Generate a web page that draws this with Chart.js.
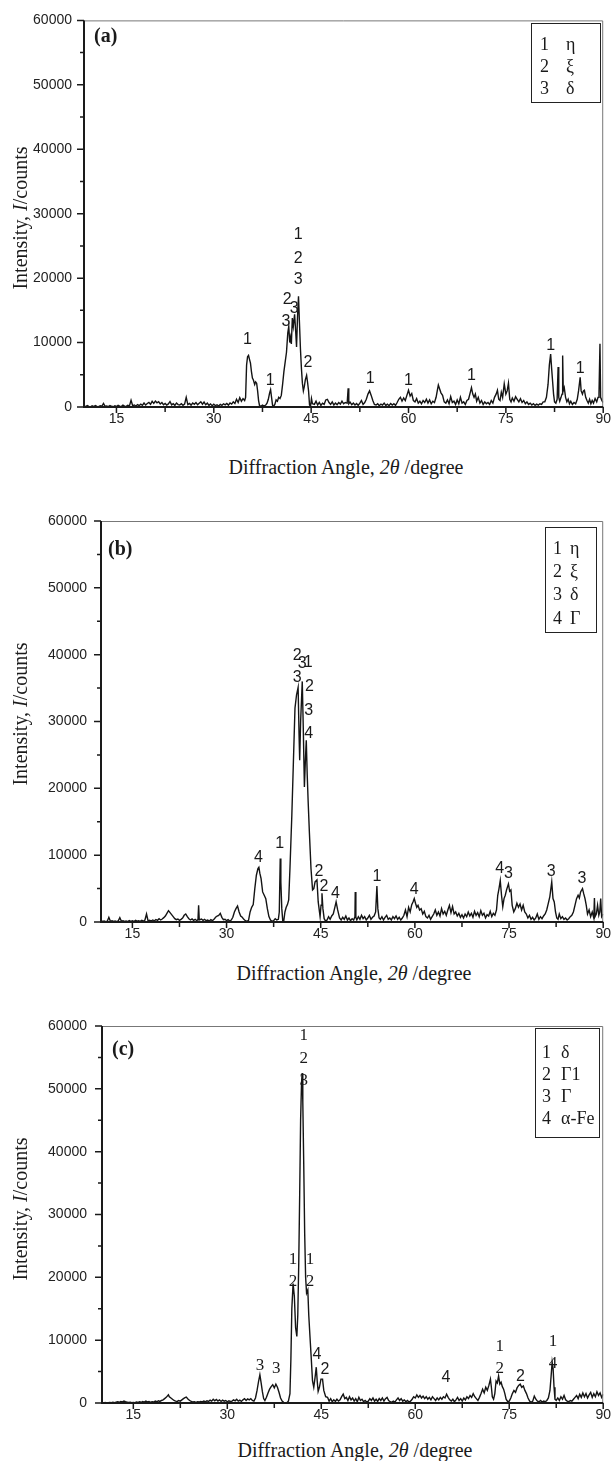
<!DOCTYPE html>
<html>
<head>
<meta charset="utf-8">
<script src="https://cdn.jsdelivr.net/npm/chart.js@4.4.1/dist/chart.umd.min.js"></script>
<style>
  body { margin: 0; width: 615px; height: 1461px; position: relative; background: #fff; overflow: hidden; }
  canvas { position: absolute; left: 0; }
  .serif { font-family: "Liberation Serif", "Times New Roman", serif; color: #1a1a1a; }
  .xtitle { position: absolute; font-size: 20px; white-space: nowrap; transform: translate(-50%, -50%); line-height: 1; }
  .ytitle { position: absolute; font-size: 20px; white-space: nowrap; transform: translate(-50%, -50%) rotate(-90deg); line-height: 1; }
  .mark { position: absolute; font-size: 20px; font-weight: bold; line-height: 1; transform: translateY(-50%); }
  .key { position: absolute; border: 1px solid #222; box-sizing: border-box; font-size: 18px; }
  .key div { position: absolute; line-height: 1; transform: translateY(-50%); white-space: nowrap; }
</style>
</head>
<body>

<canvas id="chartA" width="615" height="440" style="top:0px"></canvas>
<canvas id="chartB" width="615" height="460" style="top:490px"></canvas>
<canvas id="chartC" width="615" height="440" style="top:995px"></canvas>

<!-- panel (a) text -->
<div class="serif mark" style="left:94px; top:35px">(a)</div>
<div class="serif key" style="left:531px; top:23px; width:70px; height:80px">
  <div style="left:8px; top:20px">1</div><div style="left:34px; top:20px">η</div>
  <div style="left:8px; top:42px">2</div><div style="left:34px; top:42px">ξ</div>
  <div style="left:8px; top:64px">3</div><div style="left:34px; top:64px">δ</div>
</div>
<div class="serif ytitle" style="left:20px; top:218px">Intensity, <i>I</i>/counts</div>
<div class="serif xtitle" style="left:346px; top:467px">Diffraction Angle, <i>2θ</i> /degree</div>

<!-- panel (b) text -->
<div class="serif mark" style="left:108px; top:548px">(b)</div>
<div class="serif key" style="left:545px; top:527px; width:52px; height:106px">
  <div style="left:7px; top:20px">1</div><div style="left:24px; top:20px">η</div>
  <div style="left:7px; top:43px">2</div><div style="left:24px; top:43px">ξ</div>
  <div style="left:7px; top:66px">3</div><div style="left:24px; top:66px">δ</div>
  <div style="left:7px; top:90px">4</div><div style="left:24px; top:90px">Γ</div>
</div>
<div class="serif ytitle" style="left:20px; top:714px">Intensity, <i>I</i>/counts</div>
<div class="serif xtitle" style="left:354px; top:973px">Diffraction Angle, <i>2θ</i> /degree</div>

<!-- panel (c) text -->
<div class="serif mark" style="left:112px; top:1048px">(c)</div>
<div class="serif key" style="left:535px; top:1028px; width:65px; height:110px">
  <div style="left:6px; top:23px">1</div><div style="left:25px; top:23px">δ</div>
  <div style="left:6px; top:45px">2</div><div style="left:25px; top:45px">Γ1</div>
  <div style="left:6px; top:67px">3</div><div style="left:25px; top:67px">Γ</div>
  <div style="left:6px; top:89px">4</div><div style="left:25px; top:89px">α-Fe</div>
</div>
<div class="serif ytitle" style="left:20px; top:1209px">Intensity, <i>I</i>/counts</div>
<div class="serif xtitle" style="left:355px; top:1450px">Diffraction Angle, <i>2θ</i> /degree</div>

<script>
// axis ticks shared by all three patterns
const angleTicks = [15, 30, 45, 60, 75, 90];
const angleMinor = [22.5, 37.5, 52.5, 67.5, 82.5];
const countTicks = [0, 10000, 20000, 30000, 40000, 50000, 60000];
const countMinor = [5000, 15000, 25000, 35000, 45000, 55000];

// pattern (a): [2theta, counts]
const traceA = [
  [10,150],[10.25,60],[10.5,210],[10.75,90],[11,40],[11.25,180],[11.5,70],[11.75,230],[12,100],[12.25,50],
  [12.5,200],[12.75,120],[13,560],[13.25,90],[13.5,160],[13.75,60],[14,220],[14.25,110],[14.5,40],[14.75,190],
  [15,80],[15.25,250],[15.5,120],[15.75,60],[16,300],[16.25,140],[16.5,90],[16.75,260],[17,180],[17.25,1050],
  [17.5,200],[17.75,320],[18,150],[18.25,380],[18.5,210],[18.75,450],[19,260],[19.25,620],[19.5,300],[19.75,540],
  [20,700],[20.25,420],[20.5,880],[20.75,560],[21,930],[21.25,650],[21.5,820],[21.75,480],[22,700],[22.25,350],
  [22.5,560],[22.75,300],[23,480],[23.25,850],[23.5,330],[23.75,520],[24,260],[24.25,610],[24.5,380],[24.75,300],
  [25,520],[25.25,260],[25.5,450],[25.75,1500],[26,380],[26.25,560],[26.5,300],[26.75,620],[27,420],[27.25,700],
  [27.5,350],[27.75,580],[28,820],[28.25,430],[28.5,760],[28.75,350],[29,600],[29.25,250],[29.5,480],[29.75,180],
  [30,420],[30.25,200],[30.5,350],[30.75,150],[31,420],[31.25,260],[31.5,500],[31.75,330],[32,560],[32.25,300],
  [32.5,620],[32.75,450],[33,800],[33.25,550],[33.5,1200],[33.75,700],[34,1450],[34.25,900],[34.5,1300],[34.75,1000],
  [34.9,1500],[35.05,6500],[35.2,7800],[35.35,8000],[35.5,7400],[35.65,6800],[35.8,5500],[35.95,4500],[36.1,4200],[36.3,3500],
  [36.45,3900],[36.6,3700],[36.75,2500],[36.9,1000],[37.05,200],[37.25,100],[37.5,300],[37.75,150],[38,300],[38.2,600],
  [38.4,1200],[38.6,2200],[38.75,2700],[38.9,1500],[39.05,300],[39.15,0],[39.4,400],[39.6,1100],[39.8,900],[40,1500],
  [40.2,1300],[40.4,1800],[40.6,3500],[40.8,5500],[41,7000],[41.2,8500],[41.4,11500],[41.55,12500],[41.7,10000],[41.8,10800],
  [41.95,9800],[42.1,13800],[42.25,12500],[42.45,14400],[42.6,12000],[42.75,9300],[42.9,14000],[43.05,17200],[43.2,13000],[43.35,9000],
  [43.5,6000],[43.65,3700],[43.8,2500],[43.95,3200],[44.1,4200],[44.3,4900],[44.45,3800],[44.6,2500],[44.75,300],[44.9,100],
  [45.05,1300],[45.2,500],[45.5,400],[45.75,900],[46,300],[46.25,700],[46.5,250],[46.75,600],[47,400],[47.25,1100],
  [47.5,1200],[47.75,700],[48,400],[48.25,800],[48.5,300],[48.75,600],[49,350],[49.25,700],[49.5,450],[49.75,900],
  [50,500],[50.25,700],[50.55,600],[50.7,2900],[50.8,500],[51,750],[51.25,350],[51.5,600],[51.75,300],[52,550],
  [52.25,250],[52.5,600],[52.75,1000],[53,400],[53.25,700],[53.5,1200],[53.75,2000],[54,2500],[54.25,1800],[54.5,1000],
  [54.75,400],[55,300],[55.25,500],[55.5,200],[55.75,450],[56,300],[56.25,600],[56.5,250],[56.75,450],[57,200],
  [57.25,550],[57.5,300],[57.75,500],[58,250],[58.25,700],[58.5,1200],[58.75,1500],[59,900],[59.25,1400],[59.5,1000],
  [59.75,1800],[60,2600],[60.25,1700],[60.5,2100],[60.75,1000],[61,800],[61.25,1300],[61.5,600],[61.75,900],[62,500],
  [62.25,1000],[62.5,700],[62.75,1200],[63,600],[63.25,1100],[63.5,500],[63.75,900],[64,700],[64.25,1500],[64.45,2600],
  [64.6,3400],[64.8,2800],[65,2200],[65.25,1800],[65.5,800],[65.75,600],[66,1100],[66.25,500],[66.5,1600],[66.75,700],
  [67,900],[67.25,400],[67.5,1100],[67.75,500],[68,1500],[68.25,600],[68.5,800],[68.75,400],[69,1000],[69.25,1200],
  [69.5,2200],[69.7,3000],[69.9,2000],[70.1,1500],[70.3,2000],[70.5,900],[70.75,1500],[71,600],[71.25,1000],[71.5,400],
  [71.75,800],[72,500],[72.25,700],[72.5,400],[72.75,1000],[73,600],[73.25,1500],[73.5,2000],[73.7,2600],[73.9,1200],
  [74.1,1000],[74.3,2300],[74.5,1500],[74.75,3600],[75,2000],[75.2,2500],[75.4,3700],[75.6,1200],[75.8,800],[76,1400],
  [76.25,900],[76.5,1600],[76.75,1200],[77,800],[77.25,1300],[77.5,700],[77.75,1000],[78,500],[78.25,800],[78.5,400],
  [78.75,600],[79,300],[79.25,500],[79.5,250],[79.75,450],[80,300],[80.25,500],[80.5,400],[80.75,800],[81,800],
  [81.25,1500],[81.5,3500],[81.7,6500],[81.9,8200],[82.05,6000],[82.2,4000],[82.35,2000],[82.5,800],[82.7,600],[82.9,1200],
  [83.05,6200],[83.15,1500],[83.3,900],[83.5,1500],[83.65,2000],[83.75,8000],[83.85,2500],[84,3000],[84.2,1500],[84.4,800],
  [84.6,1200],[84.8,500],[85,900],[85.25,400],[85.5,700],[85.75,500],[86,1200],[86.2,2500],[86.45,4600],[86.6,2500],
  [86.8,2000],[86.95,2500],[87.1,2600],[87.3,1500],[87.5,1000],[87.7,600],[87.9,1200],[88.1,500],[88.3,1000],[88.5,600],
  [88.75,1300],[89,800],[89.2,1500],[89.35,2000],[89.5,9800],[89.6,1500],[89.8,1000],[90,700]
];

// pattern (b)
const traceB = [
  [10,200],[10.25,80],[10.5,150],[10.75,60],[11,120],[11.25,700],[11.5,100],[11.75,200],[12,80],[12.25,150],
  [12.5,50],[12.75,180],[13,650],[13.25,120],[13.5,200],[13.75,90],[14,160],[14.25,60],[14.5,220],[14.75,100],
  [15,180],[15.25,80],[15.5,250],[15.75,120],[16,200],[16.25,90],[16.5,240],[16.75,120],[17,300],[17.25,1200],
  [17.5,150],[17.75,260],[18,130],[18.25,300],[18.5,180],[18.75,350],[19,250],[19.25,500],[19.5,300],[19.75,450],
  [20,650],[20.25,900],[20.5,1300],[20.75,1700],[21,1400],[21.25,1100],[21.5,800],[21.75,500],[22,350],[22.25,450],
  [22.5,250],[22.75,400],[23,600],[23.25,1000],[23.5,1200],[23.75,800],[24,500],[24.25,300],[24.5,450],[24.75,250],
  [25,400],[25.25,200],[25.45,350],[25.55,2500],[25.65,300],[26,450],[26.25,250],[26.5,400],[26.75,200],[27,300],
  [27.25,150],[27.5,350],[27.75,200],[28,400],[28.25,700],[28.5,900],[28.75,1000],[29,1300],[29.25,700],[29.5,350],
  [29.75,400],[30,200],[30.25,350],[30.5,150],[30.75,300],[31,700],[31.25,1500],[31.5,2000],[31.75,2400],[32,1500],
  [32.25,900],[32.5,700],[32.75,400],[33,200],[33.25,100],[33.5,250],[33.75,1500],[34,2200],[34.25,2600],[34.5,5000],
  [34.75,7000],[35,8000],[35.15,8200],[35.3,7300],[35.5,6500],[35.75,4500],[36,4000],[36.25,3500],[36.5,2000],[36.75,800],
  [37,300],[37.25,100],[37.5,200],[37.75,500],[38,300],[38.25,400],[38.4,1500],[38.55,9500],[38.65,6000],[38.8,2000],
  [38.95,200],[39.1,50],[39.3,1500],[39.5,2200],[39.7,2600],[39.9,3300],[40.1,8000],[40.4,16000],[40.65,24000],[40.9,32000],
  [41.15,34000],[41.4,35100],[41.55,28000],[41.65,24200],[41.8,30000],[42.06,36000],[42.2,30000],[42.4,20200],[42.55,24000],[42.7,27200],
  [42.85,22000],[43,18000],[43.2,13300],[43.45,8000],[43.7,4800],[43.9,5000],[44.1,6000],[44.4,6300],[44.6,3000],[44.9,800],
  [45.05,2500],[45.2,4300],[45.35,2000],[45.55,500],[45.8,100],[46,300],[46.25,800],[46.5,400],[46.75,900],[47,1200],
  [47.25,2200],[47.45,3000],[47.7,1800],[48,600],[48.25,300],[48.5,700],[48.75,400],[49,900],[49.25,300],[49.5,600],
  [49.75,200],[50,500],[50.25,300],[50.45,800],[50.5,4500],[50.6,700],[50.75,300],[51,800],[51.25,400],[51.5,1000],
  [51.75,500],[52,800],[52.25,300],[52.5,600],[52.75,1000],[53,400],[53.25,700],[53.5,900],[53.75,1500],[53.95,5400],
  [54.1,2000],[54.3,600],[54.5,400],[54.75,800],[55,300],[55.25,700],[55.5,1000],[55.75,400],[56,600],[56.25,300],
  [56.5,800],[56.75,500],[57,900],[57.25,400],[57.5,700],[57.75,300],[58,600],[58.25,1000],[58.5,1800],[58.75,800],
  [59,2200],[59.25,1500],[59.5,2600],[59.7,3000],[59.9,3500],[60.1,2800],[60.3,2200],[60.5,2500],[60.75,1800],[61,2000],
  [61.25,1200],[61.5,1600],[61.75,800],[62,600],[62.25,1000],[62.5,400],[62.75,800],[63,1200],[63.25,1800],[63.5,1000],
  [63.75,1500],[64,900],[64.25,2000],[64.5,1200],[64.75,1600],[65,1000],[65.25,1800],[65.5,2500],[65.75,1400],[66,2300],
  [66.25,1200],[66.5,1500],[66.75,900],[67,1300],[67.25,700],[67.5,1100],[67.75,600],[68,1200],[68.25,800],[68.5,1500],
  [68.75,900],[69,1300],[69.25,700],[69.5,1600],[69.75,1000],[70,1400],[70.25,800],[70.5,1700],[70.75,1000],[71,1300],
  [71.25,600],[71.5,1100],[71.75,900],[72,1600],[72.25,800],[72.5,1300],[72.75,1000],[73,1800],[73.2,4000],[73.4,5000],
  [73.6,6200],[73.8,4000],[74,2300],[74.2,3500],[74.4,4000],[74.6,4800],[74.9,5700],[75.1,4600],[75.3,4800],[75.5,2500],
  [75.75,1500],[76,2000],[76.25,2800],[76.5,2200],[76.75,2700],[77,1800],[77.25,2500],[77.5,1500],[77.75,1200],[78,600],
  [78.25,1000],[78.5,400],[78.75,700],[79,300],[79.25,600],[79.5,1200],[79.75,400],[80,800],[80.25,500],[80.5,900],
  [80.75,1200],[81,1800],[81.25,2800],[81.5,3800],[81.8,6000],[82,3500],[82.2,3000],[82.4,1500],[82.6,600],[82.8,400],
  [83,1200],[83.25,500],[83.5,800],[83.75,400],[84,600],[84.25,300],[84.5,500],[84.75,800],[85,1000],[85.25,1500],
  [85.5,2500],[85.75,3500],[86,4000],[86.2,3600],[86.4,4500],[86.7,5000],[86.9,4200],[87.1,3500],[87.3,2500],[87.5,1200],
  [87.75,1800],[88,800],[88.25,1500],[88.5,600],[88.6,3600],[88.7,800],[88.9,1200],[89.1,2500],[89.3,1000],[89.45,1500],
  [89.6,3500],[89.75,800],[90,1200]
];

// pattern (c)
const traceC = [
  [10,50],[10.25,20],[10.5,80],[10.75,30],[11,60],[11.25,100],[11.5,40],[11.75,120],[12,60],[12.25,150],
  [12.5,200],[12.75,120],[13,250],[13.25,180],[13.5,300],[13.75,200],[14,150],[14.25,80],[14.5,120],[14.75,50],
  [15,100],[15.25,60],[15.5,150],[15.75,80],[16,200],[16.25,120],[16.5,250],[16.75,150],[17,300],[17.25,180],
  [17.5,250],[17.75,120],[18,200],[18.25,150],[18.5,300],[18.75,200],[19,350],[19.25,250],[19.5,400],[19.75,500],
  [20,700],[20.25,900],[20.6,1300],[20.75,1000],[21,800],[21.25,600],[21.5,400],[21.75,300],[22,250],[22.25,400],
  [22.5,300],[22.75,500],[23,700],[23.25,850],[23.45,950],[23.75,600],[24,400],[24.25,250],[24.5,150],[24.75,200],
  [25,100],[25.25,200],[25.5,150],[25.75,250],[26,180],[26.25,300],[26.5,200],[26.75,350],[27,250],[27.25,450],
  [27.5,300],[27.75,600],[28,350],[28.25,550],[28.5,300],[28.75,500],[29,250],[29.25,450],[29.5,300],[29.75,400],
  [30,200],[30.25,350],[30.5,250],[30.75,300],[31,500],[31.25,350],[31.5,600],[31.75,300],[32,450],[32.25,250],
  [32.5,500],[32.75,700],[33,400],[33.25,650],[33.5,500],[33.75,700],[34,400],[34.25,300],[34.5,800],[34.75,2000],
  [35,3500],[35.2,4500],[35.4,3200],[35.6,1800],[35.8,700],[36,400],[36.25,900],[36.5,1600],[36.75,2200],[37,2600],
  [37.25,2900],[37.5,2400],[37.75,3000],[38,2500],[38.25,1700],[38.5,800],[38.75,300],[39,100],[39.25,50],[39.5,30],
  [39.75,300],[40,1500],[40.15,7000],[40.3,15000],[40.5,19000],[40.7,17000],[40.9,12000],[41.1,10600],[41.25,14000],[41.4,22000],
  [41.55,33000],[41.7,45000],[41.85,51000],[41.95,52500],[42.05,48000],[42.2,38000],[42.35,27000],[42.5,20000],[42.65,17500],[42.85,18000],
  [43,14000],[43.2,10500],[43.4,7100],[43.6,3500],[43.8,2500],[44,4000],[44.2,5700],[44.35,3500],[44.5,1850],[44.7,2500],
  [44.95,3800],[45.2,3800],[45.4,2000],[45.7,1000],[46,900],[46.25,300],[46.5,700],[46.75,200],[47,500],[47.25,250],
  [47.5,600],[47.75,300],[48,500],[48.25,1000],[48.5,1400],[48.75,700],[49,900],[49.25,400],[49.5,1000],[49.75,500],
  [50,800],[50.25,300],[50.5,700],[50.75,200],[51,900],[51.25,400],[51.5,600],[51.75,200],[52,400],[52.25,150],
  [52.5,300],[52.75,700],[53,400],[53.25,800],[53.5,300],[53.75,600],[54,250],[54.25,700],[54.5,400],[54.75,800],
  [55,300],[55.25,700],[55.5,900],[55.75,400],[56,200],[56.25,100],[56.5,300],[56.75,150],[57,500],[57.25,800],
  [57.5,400],[57.75,700],[58,300],[58.25,500],[58.5,200],[58.75,400],[59,150],[59.25,300],[59.5,600],[59.75,1000],
  [60,800],[60.25,1300],[60.5,900],[60.75,1200],[61,800],[61.25,1100],[61.5,700],[61.75,1000],[62,600],[62.25,900],
  [62.5,500],[62.75,1000],[63,700],[63.25,400],[63.5,800],[63.75,500],[64,900],[64.25,600],[64.5,1000],[64.75,800],
  [65,1400],[65.25,900],[65.5,500],[65.75,300],[66,600],[66.25,200],[66.5,500],[66.75,900],[67,400],[67.25,700],
  [67.5,300],[67.75,800],[68,500],[68.25,1000],[68.5,700],[68.75,1200],[69,900],[69.25,1500],[69.5,1000],[69.75,700],
  [70,400],[70.25,900],[70.5,1500],[70.75,2200],[71,1600],[71.25,2500],[71.5,2000],[71.75,2800],[72,3800],[72.15,2500],
  [72.3,1000],[72.5,600],[72.7,1500],[72.9,3500],[73.1,3200],[73.3,4300],[73.5,3000],[73.7,3300],[73.9,2600],[74.1,2200],
  [74.3,1500],[74.5,600],[74.75,200],[75,300],[75.25,800],[75.5,1500],[75.75,2000],[76,1700],[76.25,2400],[76.5,2800],
  [76.75,3000],[77,2500],[77.25,2700],[77.5,2000],[77.75,1500],[78,800],[78.25,300],[78.5,100],[78.75,300],[79,1100],
  [79.25,600],[79.5,300],[79.75,200],[80,400],[80.25,150],[80.5,300],[80.75,200],[81,400],[81.25,800],[81.5,2000],
  [81.7,4500],[81.85,6500],[82,5500],[82.15,2500],[82.3,600],[82.5,400],[82.75,800],[83,400],[83.25,1000],[83.5,600],
  [83.75,1200],[84,500],[84.25,300],[84.5,200],[84.75,400],[85,300],[85.25,600],[85.5,900],[85.75,1200],[86,700],
  [86.25,1400],[86.5,900],[86.75,1600],[87,1000],[87.25,1500],[87.5,800],[87.75,1300],[88,1700],[88.25,900],[88.5,1500],
  [88.75,1000],[89,1800],[89.25,1200],[89.5,1600],[89.75,900],[90,1400]
];

// phase numbers written over the peaks: [2theta, counts, text, face]
const tagsA = [
  [35.2,10400,'1','s'],[38.7,4100,'1','s'],[41.1,13300,'3','s'],[41.3,16700,'2','s'],[42.4,15200,'3','s'],
  [43.0,26700,'1','s'],[43.0,23000,'2','s'],[43.0,19800,'3','s'],[44.5,6900,'2','s'],[54.1,4400,'1','s'],
  [60.0,4100,'1','s'],[69.7,4900,'1','s'],[81.9,9500,'1','s'],[86.45,6000,'1','s']
];
const tagsB = [
  [35.1,9650,'4','s'],[38.45,11750,'1','s'],[41.27,39850,'2','s'],[41.27,36600,'3','s'],[42.06,38600,'3','s'],
  [43.0,38850,'1','s'],[43.2,35200,'2','s'],[43.1,31600,'3','s'],[43.1,28200,'4','s'],[44.7,7500,'2','s'],
  [45.5,5370,'2','s'],[47.35,4280,'4','s'],[53.95,6760,'1','s'],[59.9,4880,'4','s'],[73.5,8000,'4','s'],
  [74.9,7270,'3','s'],[81.7,7500,'3','s'],[86.6,6520,'3','s']
];
const tagsC = [
  [42.2,58460,'1','r'],[42.2,54760,'2','r'],[42.2,51300,'3','r'],[40.47,22850,'1','r'],[40.47,19300,'2','r'],
  [43.2,22850,'1','r'],[43.2,19300,'2','r'],[44.3,7670,'4','s'],[45.6,5290,'2','s'],[35.2,5920,'3','r'],
  [37.8,5550,'3','r'],[64.9,3970,'4','s'],[73.5,8980,'1','r'],[73.5,5550,'2','r'],[76.8,4220,'2','s'],
  [82.0,9780,'1','r'],[82.0,6350,'4','r']
];

const SANS = '"Liberation Sans", Arial, sans-serif';
const SERIF = '"Liberation Serif", "Times New Roman", serif';

// axis lines, box and tick marks
const framePlugin = {
  id: 'frame',
  afterDatasetsDraw(chart) {
    const { ctx, chartArea: a, scales: { x, y } } = chart;
    ctx.save();
    // thin box on top and right
    ctx.strokeStyle = '#777';
    ctx.lineWidth = 1;
    ctx.beginPath();
    ctx.moveTo(a.left, a.top + 0.5);
    ctx.lineTo(a.right - 0.5, a.top + 0.5);
    ctx.lineTo(a.right - 0.5, a.bottom);
    ctx.stroke();
    // heavier left / bottom axes
    ctx.strokeStyle = '#1a1a1a';
    ctx.lineWidth = 2;
    ctx.beginPath();
    ctx.moveTo(a.left, a.top);
    ctx.lineTo(a.left, a.bottom);
    ctx.lineTo(a.right, a.bottom);
    ctx.stroke();
    ctx.lineWidth = 1.5;
    ctx.beginPath();
    angleTicks.forEach(v => { const px = x.getPixelForValue(v); ctx.moveTo(px, a.bottom); ctx.lineTo(px, a.bottom + 6); });
    angleMinor.forEach(v => { const px = x.getPixelForValue(v); ctx.moveTo(px, a.bottom); ctx.lineTo(px, a.bottom + 5); });
    countTicks.forEach(v => { const py = y.getPixelForValue(v); ctx.moveTo(a.left, py); ctx.lineTo(a.left - 7, py); });
    countMinor.forEach(v => { const py = y.getPixelForValue(v); ctx.moveTo(a.left, py); ctx.lineTo(a.left - 4, py); });
    ctx.stroke();
    ctx.restore();
  }
};

// phase numbers placed through the scales
const tagPlugin = {
  id: 'peakTags',
  afterDatasetsDraw(chart, args, opts) {
    const { ctx, scales: { x, y } } = chart;
    ctx.save();
    ctx.fillStyle = '#1a1a1a';
    ctx.textAlign = 'center';
    ctx.textBaseline = 'middle';
    opts.tags.forEach(([ang, cnt, txt, face]) => {
      ctx.font = face === 'r' ? '17px ' + SERIF : '16px ' + SANS;
      ctx.fillText(txt, x.getPixelForValue(ang), y.getPixelForValue(cnt));
    });
    ctx.restore();
  }
};

function buildPanel(id, trace, tags, frame) {
  return new Chart(document.getElementById(id), {
    type: 'line',
    data: {
      datasets: [{
        data: trace.map(p => ({ x: p[0], y: p[1] })),
        borderColor: '#141414',
        borderWidth: 1.4,
        pointRadius: 0,
        tension: 0,
        fill: false
      }]
    },
    options: {
      responsive: false,
      animation: false,
      events: [],
      layout: { padding: { top: frame.top, right: frame.right, left: 0, bottom: 0 } },
      plugins: {
        legend: { display: false },
        tooltip: { enabled: false },
        peakTags: { tags: tags }
      },
      scales: {
        x: {
          type: 'linear', min: 10, max: 90,
          grid: { display: false, drawTicks: false }, border: { display: false },
          afterBuildTicks: s => { s.ticks = angleTicks.map(v => ({ value: v })); },
          afterFit: s => { s.height = frame.below; },
          ticks: { font: { family: SANS, size: 14 }, color: '#222', padding: 4, maxRotation: 0, autoSkip: false, callback: v => String(v) }
        },
        y: {
          type: 'linear', min: 0, max: 60000,
          grid: { display: false, drawTicks: false }, border: { display: false },
          afterBuildTicks: s => { s.ticks = countTicks.map(v => ({ value: v })); },
          afterFit: s => { s.width = frame.left; },
          ticks: { font: { family: SANS, size: 14 }, color: '#222', padding: frame.pad, callback: v => String(v) }
        }
      }
    },
    plugins: [framePlugin, tagPlugin]
  });
}

buildPanel('chartA', traceA, tagsA, { top: 16, right: 7, left: 84, below: 33, pad: 12 });
buildPanel('chartB', traceB, tagsB, { top: 31, right: 8, left: 101, below: 28, pad: 14 });
buildPanel('chartC', traceC, tagsC, { top: 31, right: 7, left: 102, below: 32, pad: 15 });
</script>
</body>
</html>
